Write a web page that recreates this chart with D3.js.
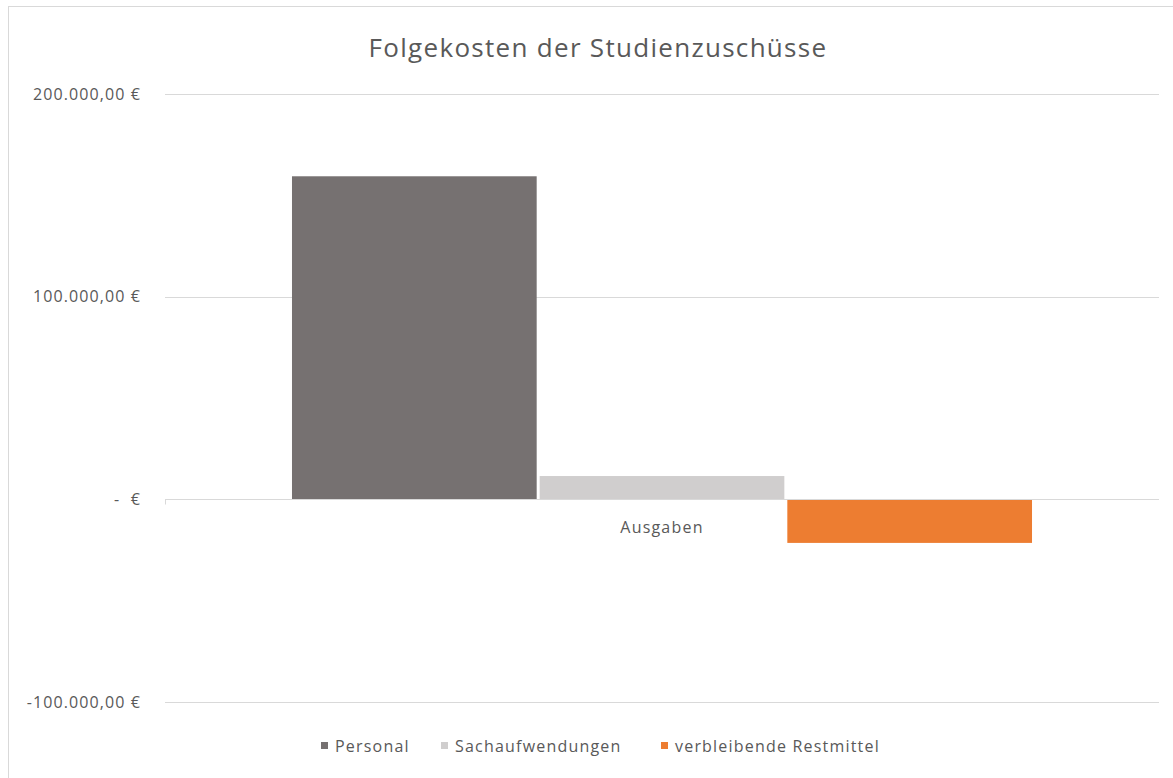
<!DOCTYPE html>
<html>
<head>
<meta charset="utf-8">
<script src="https://cdn.jsdelivr.net/npm/d3@7"></script>
<style>
  body { margin: 0; background: #fff; }
  svg text { font-family: "Open Sans", Lato, sans-serif; fill: #595959; }
</style>
</head>
<body>
<div id="chart"></div>
<script>
const categories = ["Ausgaben"]
const seriesNames = ["Personal", "Sachaufwendungen", "verbleibende Restmittel"]
const seriesValues = [159400, 11500, -21500]
const seriesColors = ["#767171", "#d0cece", "#ed7d31"]
const yTicks = [-100000, 0, 100000, 200000]
const yTickLabels = ["-100.000,00 €", "-  €", "100.000,00 €", "200.000,00 €"]

const width = 1173, height = 778
const plotLeft = 165, plotRight = 1159, plotTop = 94, plotBottom = 702

const svg = d3.select("#chart").append("svg")
  .attr("width", width)
  .attr("height", height)

// chart frame, only top and left edge are inside the shot
svg.append("rect")
  .attr("x", 8.5).attr("y", 6.5)
  .attr("width", width + 20).attr("height", height + 20)
  .attr("fill", "none").attr("stroke", "#d9d9d9")

svg.append("text")
  .attr("x", 598).attr("y", 57)
  .attr("text-anchor", "middle")
  .attr("font-size", 26)
  .attr("letter-spacing", 1.3)
  .text("Folgekosten der Studienzuschüsse")

const y = d3.scaleLinear().domain([-100000, 200000]).range([plotBottom, plotTop])
const x0 = d3.scaleBand().domain(categories).range([plotLeft, plotRight]).paddingOuter(0.1716).paddingInner(0)
const x1 = d3.scaleBand().domain(seriesNames).range([0, x0.bandwidth()]).paddingInner(0.012)

// gridlines
svg.append("g").selectAll("line")
  .data(yTicks.filter(d => d !== 0))
  .join("line")
  .attr("x1", plotLeft).attr("x2", plotRight)
  .attr("y1", d => Math.round(y(d)) + 0.5).attr("y2", d => Math.round(y(d)) + 0.5)
  .attr("stroke", "#d9d9d9")

// y labels
svg.append("g").selectAll("text")
  .data(yTicks)
  .join("text")
  .attr("x", 141)
  .attr("y", d => y(d) + 5.5)
  .attr("text-anchor", "end")
  .attr("font-size", 16)
  .attr("letter-spacing", 1.1)
  .style("white-space", "pre")
  .text((d, i) => yTickLabels[i])

// bars
const g = svg.append("g")
categories.forEach(cat => {
  g.selectAll("rect.bar")
    .data(seriesValues)
    .join("rect")
    .attr("class", "bar")
    .attr("x", (d, i) => x0(cat) + x1(seriesNames[i]))
    .attr("width", x1.bandwidth())
    .attr("y", d => y(Math.max(0, d)))
    .attr("height", d => Math.abs(y(d) - y(0)))
    .attr("fill", (d, i) => seriesColors[i])
})

// zero axis
const zy = Math.round(y(0)) + 0.5
svg.append("line")
  .attr("x1", plotLeft).attr("x2", plotRight)
  .attr("y1", zy).attr("y2", zy)
  .attr("stroke", "#d9d9d9")
svg.append("line")
  .attr("x1", plotLeft + 0.5).attr("x2", plotLeft + 0.5)
  .attr("y1", zy).attr("y2", zy + 5)
  .attr("stroke", "#d9d9d9")

svg.append("g").selectAll("text")
  .data(categories)
  .join("text")
  .attr("x", d => x0(d) + x0.bandwidth() / 2)
  .attr("y", 533)
  .attr("text-anchor", "middle")
  .attr("font-size", 16)
  .attr("letter-spacing", 1.2)
  .text(d => d)

// legend
const legendX = [321, 441, 661]
const legend = svg.append("g").selectAll("g")
  .data(seriesNames)
  .join("g")
  .attr("transform", (d, i) => `translate(${legendX[i]},746)`)
legend.append("rect")
  .attr("x", 0).attr("y", -4).attr("width", 7).attr("height", 7)
  .attr("fill", (d, i) => seriesColors[i])
legend.append("text")
  .attr("x", 14).attr("y", 5.5)
  .attr("font-size", 16)
  .attr("letter-spacing", 1.2)
  .text(d => d)
</script>
</body>
</html>
